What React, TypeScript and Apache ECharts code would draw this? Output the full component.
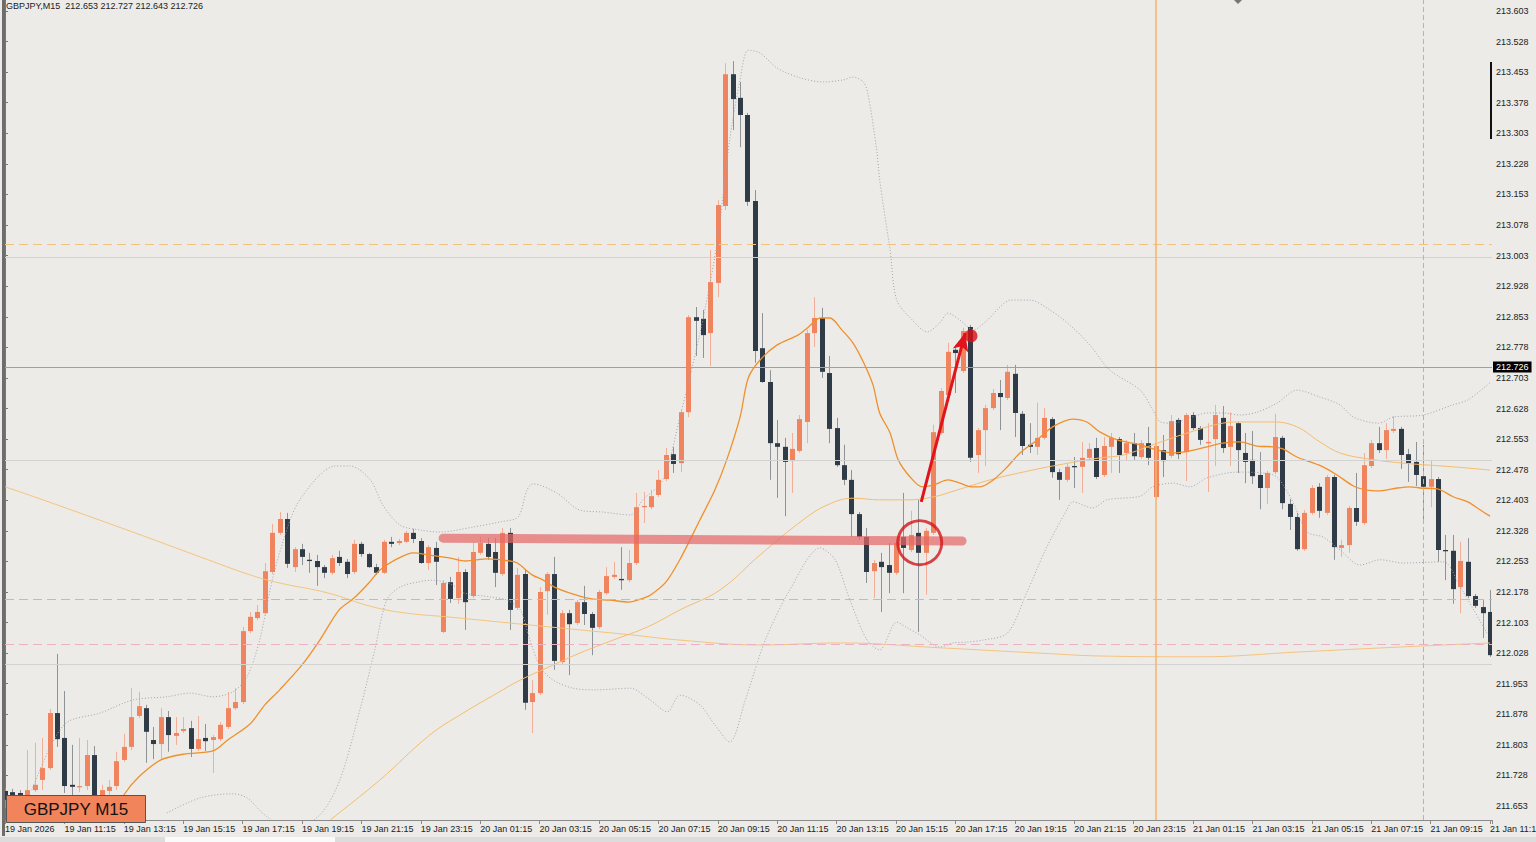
import React, { useEffect, useRef } from 'react';
import * as echarts from 'echarts';

const timeLabels = ['19 Jan 2026','19 Jan 11:15','19 Jan 13:15','19 Jan 15:15','19 Jan 17:15','19 Jan 19:15','19 Jan 21:15','19 Jan 23:15','20 Jan 01:15','20 Jan 03:15','20 Jan 05:15','20 Jan 07:15','20 Jan 09:15','20 Jan 11:15','20 Jan 13:15','20 Jan 15:15','20 Jan 17:15','20 Jan 19:15','20 Jan 21:15','20 Jan 23:15','21 Jan 01:15','21 Jan 03:15','21 Jan 05:15','21 Jan 07:15','21 Jan 09:15','21 Jan 11:15'];

const yTicks = [211.653,211.728,211.803,211.878,211.953,212.028,212.103,212.178,212.253,212.328,212.403,212.478,212.553,212.628,212.703,212.778,212.853,212.928,213.003,213.078,213.153,213.228,213.303,213.378,213.453,213.528,213.603];

const opens = [211.690,211.687,211.685,211.680,211.692,211.717,211.746,211.881,211.820,211.705,211.700,211.702,211.778,211.680,211.690,211.702,211.766,211.798,211.874,211.893,211.815,211.805,211.871,211.825,211.837,211.844,211.793,211.820,211.815,211.817,211.847,211.893,211.908,212.082,212.114,212.126,212.227,212.323,212.357,212.239,212.283,212.257,212.254,212.239,212.225,212.264,212.252,212.227,212.296,212.271,212.239,212.225,212.301,212.298,212.301,212.323,212.303,212.249,212.286,212.080,212.202,212.163,212.227,212.168,212.274,212.296,212.276,212.222,212.323,212.139,212.222,211.908,211.930,212.180,212.222,212.006,212.126,212.102,212.153,212.124,212.092,212.175,212.215,212.210,212.207,212.249,212.386,212.386,212.416,212.455,212.516,212.494,212.619,212.852,212.848,212.813,212.936,213.125,213.448,213.390,213.348,213.137,212.776,212.693,212.543,212.534,212.499,212.524,212.595,212.813,212.850,212.715,212.580,212.489,212.453,212.369,212.313,212.229,212.252,212.244,212.225,212.313,212.281,212.323,212.274,212.323,212.568,212.661,212.772,212.720,212.828,212.514,212.575,212.629,212.666,212.654,212.713,212.615,212.539,212.534,212.556,212.602,212.472,212.453,212.487,212.485,212.507,212.531,212.465,212.534,212.553,212.519,212.543,212.509,212.543,212.411,212.526,212.512,212.600,212.521,212.612,212.580,212.543,212.553,212.605,212.534,212.592,212.519,212.502,212.465,212.433,212.472,212.556,212.394,212.362,212.283,212.372,212.436,212.372,212.460,212.286,212.293,212.384,212.347,212.487,212.543,212.526,212.573,212.578,212.516,212.497,212.462,212.436,212.455,212.281,212.279,212.190,212.252,212.168,212.141,212.129];

const closes = [211.668,211.678,211.675,211.692,211.705,211.746,211.881,211.817,211.702,211.700,211.702,211.778,211.668,211.692,211.700,211.763,211.798,211.871,211.898,211.835,211.805,211.871,211.827,211.832,211.842,211.793,211.817,211.812,211.822,211.852,211.893,211.908,212.082,212.117,212.129,212.229,212.323,212.357,212.247,212.283,212.264,212.254,212.239,212.225,212.261,212.249,212.222,212.296,212.271,212.239,212.225,212.301,212.296,212.303,212.323,212.308,212.249,212.288,212.252,212.200,212.161,212.227,212.153,212.276,212.298,212.264,212.225,212.323,212.134,212.220,211.906,211.930,212.178,212.222,212.009,212.126,212.099,212.153,212.124,212.090,212.178,212.217,212.220,212.207,212.249,212.386,212.389,212.413,212.453,212.514,212.492,212.619,212.852,212.843,212.808,212.938,213.127,213.448,213.387,213.348,213.135,212.769,212.693,212.543,212.534,212.497,212.529,212.602,212.813,212.850,212.718,212.578,212.489,212.453,212.369,212.313,212.227,212.249,212.239,212.225,212.298,212.286,212.318,212.274,212.328,212.570,212.671,212.767,212.764,212.818,212.507,212.575,212.629,212.666,212.656,212.718,212.617,212.536,212.534,212.556,212.605,212.472,212.453,212.485,212.485,212.507,212.529,212.460,212.536,212.556,212.514,212.543,212.511,212.543,212.507,212.536,212.499,212.597,212.516,212.612,212.580,212.551,212.546,212.612,212.531,212.585,212.526,212.497,212.462,212.433,212.470,212.558,212.396,212.362,212.283,212.372,212.433,212.377,212.460,212.288,212.293,212.384,212.350,212.489,212.543,212.526,212.575,212.578,212.514,212.494,212.465,212.436,212.455,212.281,212.279,212.185,212.254,212.168,212.144,212.126,212.023];

const lows = [211.648,211.656,211.653,211.673,211.687,211.692,211.741,211.798,211.685,211.680,211.687,211.692,211.648,211.668,211.680,211.692,211.761,211.790,211.869,211.759,211.768,211.766,211.786,211.803,211.832,211.773,211.788,211.788,211.734,211.812,211.842,211.889,211.903,212.077,212.109,212.122,212.222,212.318,212.237,212.227,212.244,212.225,212.193,212.212,212.220,212.242,212.212,212.222,212.264,212.237,212.220,212.222,212.288,212.293,212.298,212.298,212.247,212.232,212.195,212.077,212.151,212.149,212.085,212.163,212.269,212.257,212.190,212.217,212.085,212.134,211.889,211.832,211.925,212.122,211.987,212.001,211.974,212.097,212.097,212.023,212.087,212.171,212.210,212.183,212.202,212.244,212.347,212.381,212.411,212.450,212.470,212.472,212.607,212.757,212.752,212.732,212.901,213.115,213.311,213.269,213.125,212.740,212.691,212.453,212.409,212.364,212.421,212.519,212.543,212.779,212.703,212.543,212.485,212.440,212.313,212.306,212.200,212.163,212.129,212.175,212.220,212.175,212.276,212.080,212.171,212.318,212.563,212.656,212.666,212.715,212.497,212.470,212.487,212.624,212.575,212.649,212.558,212.514,212.519,212.514,212.551,212.458,212.404,212.448,212.433,212.421,212.502,212.455,212.460,212.470,212.470,212.502,212.502,212.504,212.489,212.406,212.460,212.507,212.504,212.450,212.575,212.539,212.423,212.487,212.519,212.487,212.470,212.445,212.443,212.381,212.394,212.467,212.381,212.330,212.279,212.279,212.367,212.360,212.367,212.257,212.264,212.274,212.340,212.342,212.482,212.519,212.504,212.568,212.480,212.448,212.438,212.347,212.386,212.252,212.207,212.149,212.126,212.163,212.139,212.065,212.019];

const highs = [211.697,211.695,211.692,211.790,211.808,211.820,211.891,212.026,211.935,211.803,211.820,211.815,211.800,211.705,211.717,211.786,211.830,211.942,211.933,211.901,211.847,211.893,211.886,211.871,211.871,211.862,211.874,211.854,211.827,211.859,211.933,211.942,212.092,212.129,212.146,212.249,212.345,212.374,212.372,212.288,212.296,212.274,212.269,212.244,212.269,212.279,212.259,212.306,212.301,212.274,212.247,212.306,212.313,212.308,212.328,212.333,212.310,212.293,212.301,212.207,212.215,212.264,212.234,212.301,212.313,212.310,212.310,212.335,212.335,212.237,212.234,211.962,212.190,212.227,212.264,212.134,212.134,212.158,212.193,212.129,212.183,212.239,212.252,212.288,212.281,212.421,212.423,212.428,212.477,212.531,212.534,212.624,212.857,212.877,212.870,213.017,213.139,213.475,213.480,213.429,213.353,213.164,212.862,212.722,212.600,212.556,212.568,212.612,212.821,212.901,212.875,212.757,212.605,212.539,212.477,212.374,212.335,212.257,212.274,212.298,212.306,212.421,212.377,212.404,212.335,212.588,212.678,212.789,212.784,212.826,212.833,212.580,212.637,212.676,212.698,212.735,212.735,212.622,212.592,212.642,212.629,212.607,212.480,212.492,212.509,212.546,212.543,212.556,212.558,212.568,212.558,212.551,212.568,212.551,212.583,212.539,212.563,212.612,212.605,212.617,212.619,212.585,212.592,212.637,212.634,212.619,212.595,212.568,212.573,212.521,212.475,212.615,212.561,212.406,212.372,212.379,212.440,212.445,212.465,212.465,212.306,212.389,212.470,212.519,212.551,212.583,212.592,212.610,212.583,212.529,212.546,212.539,212.502,212.460,212.318,212.318,212.301,212.310,212.173,212.158,212.183];

// indicator lines: [bar index, price]
const maFast = [[14,211.614],[16,211.680],[18,211.724],[21,211.766],[24,211.780],[28,211.788],[30,211.815],[33,211.854],[35,211.901],[37,211.938],[40,211.999],[42.4,212.060],[45,212.134],[47,212.163],[49,212.200],[50.5,212.232],[53,212.261],[55,212.274],[57,212.269],[60,212.261],[62,212.254],[65,212.259],[68,212.254],[69,212.249],[71,212.220],[72.5,212.207],[74,212.190],[76,212.176],[79,212.161],[81.5,212.158],[84,212.153],[86,212.163],[87,212.171],[89,212.202],[91,212.261],[93.6,212.355],[95.6,212.428],[97.2,212.502],[99,212.607],[100.1,212.703],[101.7,212.747],[104,212.784],[106.8,212.808],[108.1,212.826],[109.8,212.850],[111.1,212.850],[112.7,212.821],[114.2,212.789],[115.6,212.742],[116.9,212.686],[117.8,212.617],[119.2,212.568],[120.3,212.502],[121.9,212.460],[123.5,212.436],[125,212.440],[127,212.453],[128.6,212.445],[130.2,212.436],[131.3,212.436],[133.1,212.453],[135,212.485],[136.7,212.519],[139,212.551],[141.1,212.583],[143.8,212.602],[145.7,212.595],[147.5,212.570],[149.8,212.551],[152.9,212.539],[155.2,212.526],[157.3,212.519],[159.6,212.524],[161.9,212.534],[164,212.543],[166.3,212.546],[168.6,212.536],[170.8,212.534],[172.1,212.529],[174,212.509],[175.8,212.497],[177.5,212.485],[179.4,212.465],[181.6,212.438],[183.4,212.428],[185.2,212.426],[187.5,212.433],[189.2,212.436],[190.6,212.433],[192.9,212.431],[195.1,212.411],[197,212.399],[198.7,212.379],[200,212.364]];

const maMid = [[43.8,211.619],[50.5,211.717],[57.2,211.827],[61.7,211.881],[66.3,211.930],[69.4,211.962],[73,211.992],[77.4,212.028],[81.9,212.060],[86.5,212.092],[90.9,212.134],[96.3,212.183],[101.7,212.269],[107.5,212.355],[110.7,212.391],[114.2,212.408],[117.8,212.404],[121.5,212.404],[125,212.411],[128.2,212.428],[132.7,212.453],[137.1,212.472],[141.7,212.489],[147.5,212.507],[150.6,212.514],[155.2,212.543],[159.6,212.570],[164,212.592],[166.3,212.595],[170.8,212.595],[174,212.583],[177.1,212.546],[179.8,212.519],[183.8,212.504],[188.3,212.494],[195,212.485],[200,212.477]];

const maSlow = [[0,212.436],[5.1,212.404],[17.2,212.325],[26.3,212.264],[33,212.220],[37,212.200],[43.4,212.176],[49.6,212.141],[54.1,212.126],[59.5,212.117],[64,212.109],[70.7,212.097],[77.4,212.085],[84.2,212.073],[90.9,212.060],[101.7,212.048],[112.5,212.053],[126,212.041],[139.4,212.028],[147.5,212.021],[161,212.019],[174.4,212.031],[187.9,212.043],[200,212.053]];

const bbUpper = [[3.6,211.692],[6.1,211.798],[8.4,211.859],[12.8,211.881],[17.2,211.913],[21.8,211.921],[24.9,211.930],[28,211.921],[30.7,211.933],[32.6,211.970],[34.3,212.060],[36.1,212.215],[38.4,212.355],[39.7,212.404],[42.4,212.465],[44.4,212.487],[46.5,212.487],[49.2,212.453],[50.9,212.391],[53.2,212.342],[55.9,212.330],[58.6,212.325],[63,212.337],[66.7,212.350],[69.1,212.362],[70.3,212.428],[71.1,212.443],[74.3,212.421],[77.4,212.379],[80.5,212.374],[84.2,212.367],[85.9,212.404],[88.6,212.453],[90.9,212.607],[93.6,212.813],[95.9,213.034],[97.6,213.287],[99,213.434],[100.1,213.507],[101.7,213.500],[104,213.463],[107.1,213.439],[110.2,213.429],[112.9,213.434],[114.2,213.441],[115.6,213.429],[116.2,213.402],[117.4,213.262],[117.8,213.189],[119.2,213.017],[120.1,212.894],[122.2,212.845],[124.2,212.816],[125.9,212.838],[127,212.862],[128.6,212.845],[130.4,212.821],[132.3,212.845],[134,212.877],[135.4,212.894],[138,212.894],[140.7,212.870],[143.4,212.833],[146.1,212.784],[148.8,212.722],[152.9,212.673],[154.6,212.624],[155.6,212.595],[157.3,212.592],[159.6,212.605],[161.9,212.617],[164,212.617],[166.3,212.612],[168.6,212.619],[171.3,212.641],[174,212.673],[177.1,212.656],[179.8,212.637],[181.6,212.607],[185,212.592],[187,212.607],[191,212.612],[195,212.637],[197,212.649],[200,212.691]];

const bbLower = [[21.8,211.636],[26.3,211.673],[30.7,211.683],[32.6,211.673],[35,211.631],[38.4,211.594],[42.4,211.631],[45.1,211.717],[47.8,211.889],[49.8,212.036],[51.4,212.158],[53.2,212.190],[55.5,212.202],[57.6,212.207],[60.3,212.195],[61.7,212.176],[65.3,212.166],[67.6,212.158],[69.4,212.134],[70.7,212.060],[72.1,211.994],[73.8,211.962],[76.5,211.942],[79.7,211.938],[84.2,211.942],[86.9,211.913],[89.2,211.884],[90.9,211.925],[93.6,211.901],[95.6,211.852],[97.6,211.810],[99.7,211.913],[102.4,212.060],[105.7,212.183],[109.8,212.286],[111.8,212.257],[113.8,212.158],[116.1,212.060],[117.8,212.036],[120.1,212.104],[121.5,212.090],[123.2,212.073],[125.9,212.043],[127.7,212.053],[129.6,212.055],[131.7,212.060],[135,212.077],[137.6,212.176],[140.3,212.288],[143,212.379],[143.8,212.399],[146.5,212.384],[148.4,212.404],[152.9,212.413],[154.6,212.436],[157.3,212.445],[159.6,212.436],[161.9,212.458],[166,212.472],[170.8,212.465],[173.1,212.411],[175.4,212.325],[177.5,212.313],[179.8,212.281],[182.5,212.244],[185.2,212.257],[188.3,212.249],[193.7,212.252],[196,212.190],[197.8,212.134],[199.6,212.077]];

const roundLevels = [213.0, 212.5, 212.0];
const dashedLevels = [
  { price: 213.031, color: '#f3c27c' },
  { price: 212.163, color: '#a9c2d6' },
  { price: 212.053, color: '#eeb0c2' },
];
const currentPrice = 212.726;
const daySeparatorBar = 155;
const sessionBar = 191;
const supportLine = [[59, 212.310], [128.9, 212.303]];
const circleMark = [[123.2, 212.299]];
const arrowFrom = [123.4, 212.399];
const arrowTo = [129.3, 212.813];
const targetDot = [[130.1, 212.806]];
const headerText = 'GBPJPY,M15  212.653 212.727 212.643 212.726';
const boxText = 'GBPJPY M15';

const BG = '#ecebe7';
const FONT = '"Liberation Sans", Arial, sans-serif';

export default function App() {
  const ref = useRef<HTMLDivElement>(null);
  useEffect(() => {
    document.body.style.margin = '0';
    const chart = echarts.init(ref.current!, null, { renderer: 'svg' });
    const candleData = opens.map((o, i) => [i, o, closes[i], lows[i], highs[i]]);
    const option: any = {
      animation: false,
      backgroundColor: BG,
      textStyle: { fontFamily: FONT },
      grid: { left: 5, right: 44, top: 0, bottom: 22, containLabel: false, outerBoundsMode: 'none' },
      xAxis: {
        type: 'value', min: 0, max: 200.27, interval: 8,
        splitLine: { show: false },
        axisLine: { lineStyle: { color: '#8a8a8a' } },
        axisTick: { show: true, length: 4, lineStyle: { color: '#8a8a8a' } },
        axisLabel: {
          fontSize: 9, color: '#222', align: 'left', margin: 4, fontFamily: FONT,
          hideOverlap: false,
          formatter: (v: number) => {
            const k = v / 8;
            if (Math.abs(k - Math.round(k)) > 1e-6) return '';
            return timeLabels[Math.round(k)] || '';
          },
        },
      },
      yAxis: {
        type: 'value', position: 'right', min: 211.6187, max: 213.63, scale: true,
        splitLine: { show: false },
        axisLine: { show: true, lineStyle: { color: '#777' } },
        axisTick: { show: true, length: 3, customValues: yTicks, lineStyle: { color: '#777' } },
        axisLabel: {
          customValues: yTicks, fontSize: 9, color: '#222', margin: 4, fontFamily: FONT,
          formatter: (v: number) => v.toFixed(3),
        },
      },
      graphic: [
        { type: 'rect', left: 2, top: 0, shape: { width: 3, height: 836 }, style: { fill: '#6d6d6d' }, z: 100 },
        { type: 'rect', left: 1490, top: 62, shape: { width: 2, height: 77 }, style: { fill: '#111' }, z: 100 },
        { type: 'polygon', shape: { points: [[1234, 0], [1238, 4], [1242, 0]] }, style: { fill: '#777' }, z: 100 },
        { type: 'rect', left: 0, top: 837, shape: { width: 1536, height: 5 }, style: { fill: '#dcdcdc' }, z: 100 },
        { type: 'rect', left: 165, top: 837, shape: { width: 170, height: 5 }, style: { fill: '#fafafa' }, z: 101 },
        { type: 'text', left: 6, top: 1, style: { text: headerText, fontSize: 9, fill: '#222', fontFamily: FONT }, z: 100 },
        { type: 'rect', shape: { x: 6.5, y: 795.5, width: 139, height: 27 }, style: { fill: '#f1845b', stroke: '#555', lineWidth: 1 }, z: 100 },
        { type: 'text', x: 76, y: 809, style: { text: boxText, fontSize: 17, fill: '#111', fontFamily: FONT, align: 'center', verticalAlign: 'middle' }, z: 101 },
      ],
      series: [
        {
          type: 'line', data: [], z: 1, silent: true,
          markLine: {
            silent: true, symbol: ['none', 'none'], label: { show: false }, animation: false,
            data: [
              ...roundLevels.map((p) => ({ yAxis: p, lineStyle: { color: '#d2d2d0', width: 1, type: 'solid' } })),
              ...dashedLevels.map((d) => ({ yAxis: d.price, lineStyle: { color: d.color, width: 1, type: [9, 5] } })),
              { xAxis: daySeparatorBar, lineStyle: { color: '#f5b56a', width: 1.5, type: 'solid' } },
              { xAxis: sessionBar, lineStyle: { color: '#e3a0a0', width: 1, type: [5, 3] } },
              {
                yAxis: currentPrice, lineStyle: { color: '#a0a0a0', width: 1, type: 'solid' },
                label: { show: true, position: 'end', distance: 1, formatter: currentPrice.toFixed(3), backgroundColor: '#000', color: '#fff', fontSize: 9, padding: [1, 3, 1, 3], fontFamily: FONT },
              },
            ],
          },
        },
        {
          type: 'custom', z: 3, clip: true, silent: true,
          data: candleData,
          encode: { x: 0, y: [1, 2, 3, 4] },
          renderItem: (_p: any, api: any) => {
            const i = api.value(0);
            const o = api.value(1), c = api.value(2), l = api.value(3), h = api.value(4);
            const pO = api.coord([i, o]);
            const pC = api.coord([i, c]);
            const pL = api.coord([i, l]);
            const pH = api.coord([i, h]);
            const x = Math.round(pO[0]) + 0.5;
            const bull = c >= o;
            const top = Math.min(pO[1], pC[1]);
            const bot = Math.max(pO[1], pC[1]);
            return {
              type: 'group',
              children: [
                { type: 'line', shape: { x1: x, y1: pH[1], x2: x, y2: pL[1] }, style: { stroke: bull ? '#f2ae99' : '#8d9297', lineWidth: 1 } },
                { type: 'rect', shape: { x: x - 2.5, y: top, width: 5, height: Math.max(bot - top, 1.3) }, style: { fill: bull ? '#f0845e' : '#2f3b46' } },
              ],
            };
          },
        },
        { type: 'line', data: bbUpper, z: 4, smooth: 0.3, showSymbol: false, silent: true, lineStyle: { color: '#a3a3b4', width: 1, type: [1, 2] } },
        { type: 'line', data: bbLower, z: 4, smooth: 0.3, showSymbol: false, silent: true, lineStyle: { color: '#a3a3b4', width: 1, type: [1, 2] } },
        { type: 'line', data: maSlow, z: 4, smooth: 0.4, showSymbol: false, silent: true, lineStyle: { color: '#f5c47e', width: 1 } },
        { type: 'line', data: maMid, z: 4, smooth: 0.4, showSymbol: false, silent: true, lineStyle: { color: '#f5bd6e', width: 1 } },
        { type: 'line', data: maFast, z: 4, smooth: 0.3, showSymbol: false, silent: true, lineStyle: { color: '#f0902c', width: 1.3 } },
        { type: 'line', data: supportLine, z: 5, showSymbol: false, silent: true, lineStyle: { color: 'rgba(229,104,104,0.72)', width: 9, cap: 'round' } },
        {
          type: 'scatter', data: circleMark, z: 6, symbol: 'circle', symbolSize: 44, silent: true,
          itemStyle: { color: 'rgba(0,0,0,0)', borderColor: '#d3161c', borderWidth: 3 },
          markLine: {
            silent: true, symbol: ['none', 'arrow'], symbolSize: [12, 18], label: { show: false },
            lineStyle: { color: '#e0141a', width: 3, type: 'solid' },
            data: [[{ coord: arrowFrom }, { coord: arrowTo }]],
          },
        },
        { type: 'scatter', data: targetDot, z: 7, symbol: 'circle', symbolSize: 13, silent: true, itemStyle: { color: '#dc0f14' } },
      ],
    };
    chart.setOption(option);
    return () => chart.dispose();
  }, []);
  return <div ref={ref} style={{ position: 'fixed', left: 0, top: 0, width: 1536, height: 842, background: BG }} />;
}
